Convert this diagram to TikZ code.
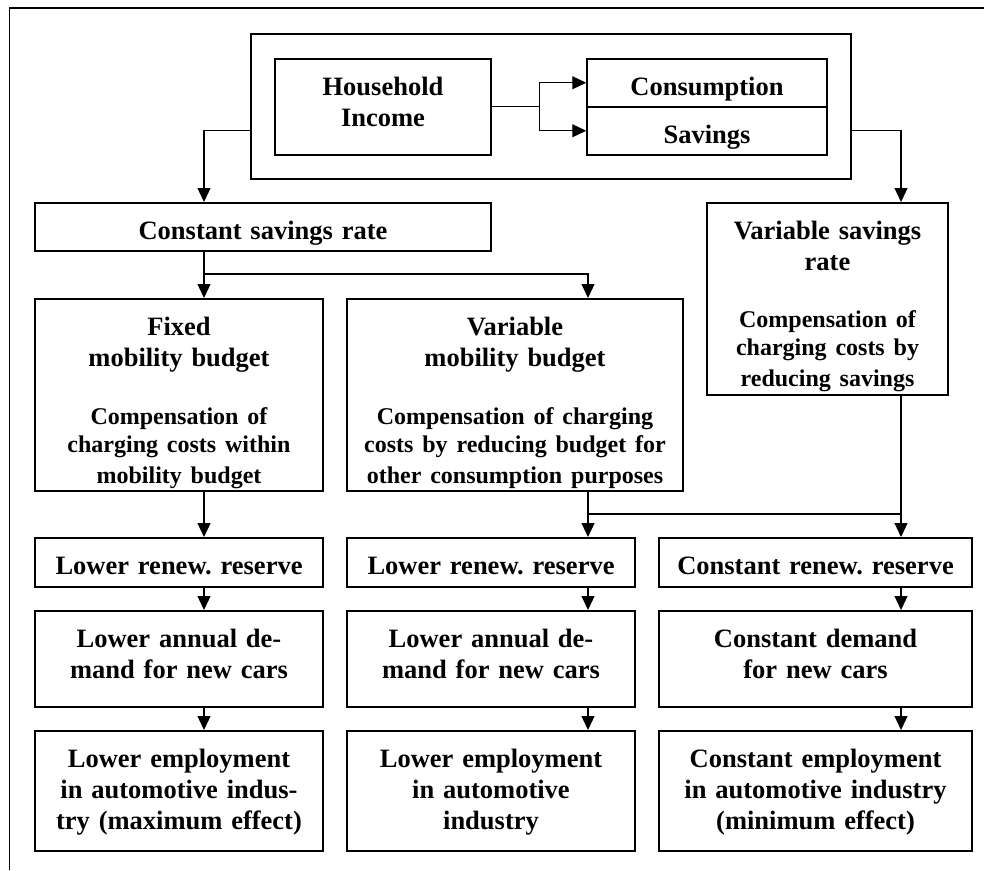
\documentclass[tikz,border=0pt]{standalone}
\usepackage{fontspec}
\setmainfont{Liberation Serif}
\usepackage{tikz}
\usetikzlibrary{positioning, arrows.meta}
\frenchspacing
\newcommand{\hdfont}{\fontsize{26.5}{31}\selectfont}
\newcommand{\smfont}{\fontsize{24}{28}\selectfont}
\tikzstyle{box}=[draw, line width=1.5pt, inner sep=0pt, anchor=north, align=center, text height=36.5pt, font=\bfseries\hdfont]
\tikzstyle{conn}=[line width=1.1pt]
\tikzset{>={Triangle[length=14pt, width=13pt]}}

\begin{document}
\begin{tikzpicture}[x=1pt, y=-1pt]
\useasboundingbox (0,0) rectangle (984,870);
\draw[line width=1.7pt] (9.5,870) -- (9.5,8) -- (984,8);
% the income box
\node[box, minimum width=600pt, minimum height=145pt] (top) at (551,33) {};
\node[box, text width=216pt, text depth=59.5pt] (hh) at (383,58) {Household\\Income};
\node[box, text width=240pt, text depth=11.5pt] (con) at (707,58) {Consumption};
\node[box, text width=240pt, text depth=11.5pt] (sav) at (707,106) {Savings};
% the savings rate
\node[box, text width=456pt, text depth=11.5pt] (csr) at (263,202) {Constant savings rate};
\node[box, text width=241pt, text depth=155.5pt] (vsr) at (827.5,202) {Variable savings\\rate\par\vspace{29pt}\smfont Compensation of\\charging costs by\\reducing savings};
% the mobility budget
\node[box, text width=288pt, text depth=155.5pt] (fix) at (179,298) {Fixed\\mobility budget\par\vspace{30pt}\smfont Compensation of\\charging costs within\\mobility budget};
\node[box, text width=336pt, text depth=155.5pt] (var) at (515,298) {Variable\\mobility budget\par\vspace{30pt}\smfont Compensation of charging\\costs by reducing budget for\\other consumption purposes};
% the effects
\node[box, text width=288pt, text depth=12.5pt] (renA) at (179,537) {Lower renew. reserve};
\node[box, text width=288pt, text depth=12.5pt] (renB) at (491,537) {Lower renew. reserve};
\node[box, text width=313pt, text depth=12.5pt] (renC) at (815.5,537) {Constant renew. reserve};
\node[box, text width=288pt, text depth=59.5pt] (demA) at (179,610) {Lower annual de-\\mand for new cars};
\node[box, text width=288pt, text depth=59.5pt] (demB) at (491,610) {Lower annual de-\\mand for new cars};
\node[box, text width=313pt, text depth=59.5pt] (demC) at (815.5,610) {Constant demand\\for new cars};
\node[box, text width=288pt, text depth=83.5pt] (empA) at (179,730) {Lower employment\\in automotive indus-\\try (maximum effect)};
\node[box, text width=288pt, text depth=83.5pt] (empB) at (491,730) {Lower employment\\in automotive\\industry};
\node[box, text width=313pt, text depth=83.5pt] (empC) at (815.5,730) {Constant employment\\in automotive industry\\(minimum effect)};
% the columns of the arrows
\coordinate (colA) at (204,0);
\coordinate (colB) at (588,0);
\coordinate (colC) at (901,0);
\coordinate[right=48pt of hh.east] (split);
\coordinate (fork1) at (204,274);
\coordinate (fork2) at (588,514);
% the arrows
\draw[conn] (hh.east) -- (split);
\draw[conn, ->] (split) |- (con.west);
\draw[conn, ->] (split) |- (sav.west);
\draw[conn, ->] (top.west |- sav.west) -| (colA |- csr.north);
\draw[conn, ->] (top.east |- sav.east) -| (colC |- vsr.north);
\draw[conn, ->] (colA |- csr.south) -- (colA |- fix.north);
\draw[conn, ->] (fork1) -| (colB |- var.north);
\draw[conn, ->] (colA |- fix.south) -- (colA |- renA.north);
\draw[conn, ->] (colB |- var.south) -- (colB |- renB.north);
\draw[conn] (fork2) -| (colC |- vsr.south);
\draw[conn, ->] (colC |- vsr.south) -- (colC |- renC.north);
\foreach \col/\s in {colA/A, colB/B, colC/C}{
  \draw[conn, ->] (\col |- ren\s.south) -- (\col |- dem\s.north);
  \draw[conn, ->] (\col |- dem\s.south) -- (\col |- emp\s.north);
}
\end{tikzpicture}
\end{document}
